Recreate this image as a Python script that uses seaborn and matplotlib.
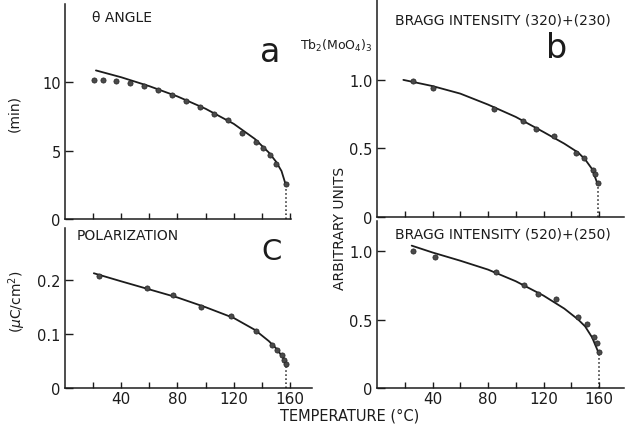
import matplotlib
matplotlib.use("Agg")
import matplotlib.pyplot as plt
import seaborn as sns

# panel a: theta angle (min)
a_temp = [20.5, 27, 36, 46, 56, 66, 76, 86, 96, 106, 116, 126, 135.5, 140.5, 145.5, 150, 157]
a_angle = [10.15, 10.15, 10.05, 9.9, 9.7, 9.4, 9.05, 8.6, 8.15, 7.7, 7.2, 6.3, 5.6, 5.2, 4.65, 4.0, 2.55]
a_fit_temp = [22, 40, 60, 80, 100, 120, 135, 145, 150, 154, 157]
a_fit = [10.85, 10.35, 9.7, 8.95, 8.05, 6.95, 5.85, 4.85, 4.2, 3.5, 2.5]

# panel b: Bragg intensity (320)+(230)
b_temp = [26, 40.5, 84, 105, 114.5, 127.5, 143.5, 149.5, 155.5, 157, 159]
b_int = [0.99, 0.94, 0.79, 0.70, 0.64, 0.59, 0.47, 0.43, 0.34, 0.31, 0.25]
b_fit_temp = [19, 40, 60, 80, 100, 120, 135, 145, 150, 155, 159]
b_fit = [1.0, 0.955, 0.90, 0.82, 0.73, 0.62, 0.535, 0.47, 0.42, 0.35, 0.24]

# panel c: polarization (uC/cm2)
c_temp = [24, 58, 77, 97, 118, 136, 147, 150.5, 154, 156, 157]
c_pol = [0.207, 0.185, 0.172, 0.150, 0.133, 0.105, 0.080, 0.071, 0.062, 0.052, 0.045]
c_fit_temp = [20.5, 40, 60, 80, 100, 120, 135, 145, 150, 155, 158]
c_fit = [0.213, 0.198, 0.183, 0.168, 0.150, 0.130, 0.108, 0.087, 0.074, 0.057, 0.04]

# panel d: Bragg intensity (520)+(250)
d_temp = [26, 42, 85.5, 106, 116, 129, 145, 151, 156.5, 158.5, 160]
d_int = [1.0, 0.955, 0.845, 0.75, 0.685, 0.647, 0.52, 0.47, 0.375, 0.33, 0.26]
d_fit_temp = [25, 40, 60, 80, 100, 120, 135, 145, 150, 155, 160]
d_fit = [1.04, 0.99, 0.93, 0.865, 0.78, 0.675, 0.58, 0.50, 0.45, 0.37, 0.25]

x_ticks = [20, 40, 60, 80, 100, 120, 140, 160]
x_labels = ["", "40", "", "80", "", "120", "", "160"]

sns.set_style("ticks")
plt.rcParams["font.family"] = ["DejaVu Sans"]
INK = "#1c1c1c"

W, H = 625, 427
fig = plt.figure(figsize=(W / 100, H / 100), dpi=100)


def box(left, top, right, bottom):
    return [left / W, 1 - bottom / H, (right - left) / W, (bottom - top) / H]


def panel(rect, xlim, ylim, yticks, ylabels, temp, vals, fit_t, fit_v, bottom_labels):
    ax = fig.add_axes(rect)
    sns.lineplot(x=fit_t, y=fit_v, ax=ax, color=INK, linewidth=1.3, sort=False)
    sns.scatterplot(x=temp, y=vals, ax=ax, color="#4a4a4a", edgecolor="#222222",
                    s=14, linewidth=0.5, zorder=3)
    ax.plot([temp[-1], temp[-1]], [0, vals[-1]], linestyle=":", color=INK, linewidth=1.1)
    ax.set_xlim(*xlim)
    ax.set_ylim(*ylim)
    ax.set_xticks(x_ticks)
    ax.set_xticklabels(x_labels if bottom_labels else [""] * len(x_ticks))
    ax.set_yticks(yticks)
    ax.set_yticklabels(ylabels)
    ax.tick_params(axis="x", direction="in", length=4, width=1, pad=2, labelsize=11, colors=INK)
    ax.tick_params(axis="y", direction="in", length=6, width=1, pad=3, labelsize=10.5, colors=INK)
    sns.despine(ax=ax)
    for s in ("left", "bottom"):
        ax.spines[s].set_color(INK)
        ax.spines[s].set_linewidth(1.1)
    ax.set_xlabel("")
    ax.set_ylabel("")
    ax.patch.set_alpha(0)
    return ax


panel(box(65, 5, 65 + 161 * 1.406, 220), (0, 161), (0, 15.7), [0, 5, 10], ["0", "5", "10"],
      a_temp, a_angle, a_fit_temp, a_fit, False)
panel(box(377, 0, 377 + 178 * 1.3875, 218), (0, 178), (0, 1.59), [0, 0.5, 1.0], ["0", "0.5", "1.0"],
      b_temp, b_int, b_fit_temp, b_fit, False)
panel(box(65, 229, 65 + 176 * 1.406, 389), (0, 176), (0, 0.297), [0, 0.1, 0.2], ["0", "0.1", "0.2"],
      c_temp, c_pol, c_fit_temp, c_fit, True)
panel(box(377, 222, 377 + 178 * 1.3875, 389), (0, 178), (0, 1.22), [0, 0.5, 1.0], ["0", "0.5", "1.0"],
      d_temp, d_int, d_fit_temp, d_fit, True)


def label(x, y, s, **kw):
    kw.setdefault("color", INK)
    fig.text(x / W, 1 - y / H, s, **kw)


label(92, 18, "θ ANGLE", fontsize=10, ha="left", va="center")
label(270, 53, "a", fontsize=24, ha="center", va="center")
label(14, 113, "(min)", fontsize=10, rotation=90, ha="center", va="center")

label(395, 20, "BRAGG INTENSITY (320)+(230)", fontsize=10, ha="left", va="center")
label(300, 46, r"Tb$_2$(MoO$_4$)$_3$", fontsize=9, ha="left", va="center")
label(557, 48, "b", fontsize=24, ha="center", va="center")

label(77, 236, "POLARIZATION", fontsize=10, ha="left", va="center")
label(272, 252, "C", fontsize=21, ha="center", va="center")
label(17, 302, r"($\mu$C/cm$^2$)", fontsize=10, rotation=90, ha="center", va="center")

label(395, 234, "BRAGG INTENSITY (520)+(250)", fontsize=10, ha="left", va="center")
label(340, 228, "ARBITRARY UNITS", fontsize=10, rotation=90, ha="center", va="center")

label(350, 416, "TEMPERATURE (°C)", fontsize=10.5, ha="center", va="center")

fig.savefig("out.png", dpi=100, facecolor="white")
